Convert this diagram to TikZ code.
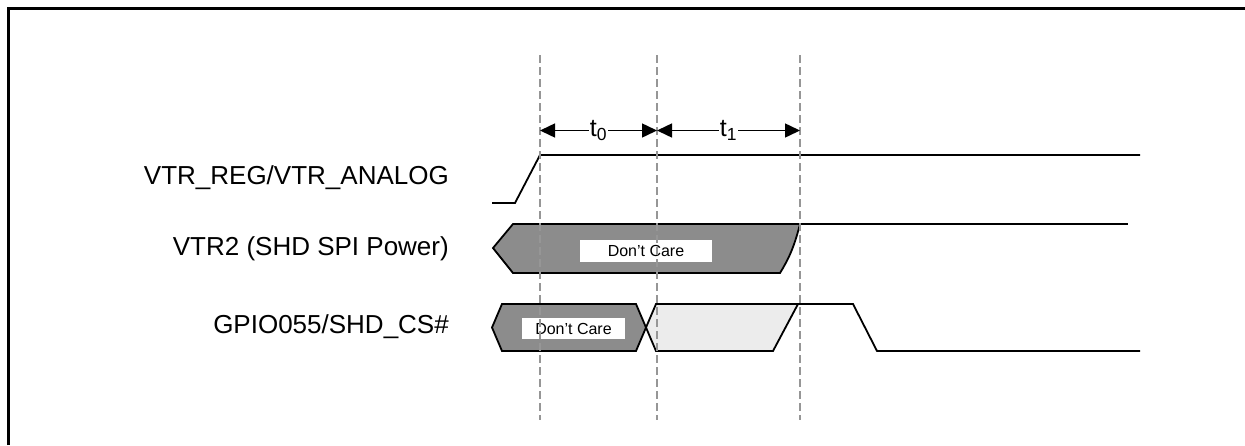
\documentclass[tikz,border=0pt]{standalone}
\usepackage{fontspec}
\setmainfont{Liberation Sans}
\usetikzlibrary{arrows.meta}
\definecolor{hatchdark}{RGB}{140,140,140}
\definecolor{hatchlight}{RGB}{236,236,236}
\definecolor{guidegray}{RGB}{150,150,150}
\begin{document}
\begin{tikzpicture}[x=1pt,y=-1pt,
  frame/.style={line width=3pt},
  guide/.style={draw=guidegray, line width=2pt, dash pattern=on 8pt off 4pt},
  sig/.style={line width=1.8pt, line join=miter},
  meas/.style={line width=1.5pt, {Triangle[length=15pt,width=14pt]}-{Triangle[length=15pt,width=14pt]}},
  lbl/.style={font=\fontsize{26}{30}\selectfont, anchor=east, inner sep=0pt},
  tlbl/.style={font=\fontsize{25}{28}\selectfont, fill=white, inner sep=1pt},
  dcbox/.style={fill=white, font=\fontsize{16}{18}\selectfont, inner sep=0pt, minimum height=22pt}
]
\useasboundingbox (0,0) rectangle (1245,445);
\draw[frame] (8,445) -- (8,8) -- (1245,8);

% signal labels
\node[lbl] (lreg) at (449,178) {VTR\_REG/VTR\_ANALOG};
\node[lbl] (lvtr2) at (449,249) {VTR2 (SHD SPI Power)};
\node[lbl] (lgpio) at (449,327) {GPIO055/SHD\_CS\#};

% VTR_REG/VTR_ANALOG
\draw[sig] (492,203) -- (515,203) -- (540,155) -- (1140,155);

% VTR2
\draw[sig, fill=hatchdark] (493,248) -- (513,224) -- (800,224)
  .. controls (794,248) and (788,260) .. (780,273) -- (513,273) -- cycle;
\draw[sig] (800,224) -- (1128,224);
\node[dcbox, minimum width=132pt] (dc1) at (646,251) {Don’t Care};

% GPIO055/SHD_CS#
\draw[sig, fill=hatchdark] (492,327.5) -- (502,304) -- (636,304) -- (646,327.5)
  -- (636,351) -- (502,351) -- cycle;
\node[dcbox, minimum width=103pt, minimum height=21pt] (dc2) at (573.5,328.5) {Don’t Care};
\draw[sig, fill=hatchlight] (646,327.5) -- (656,304) -- (798,304) -- (773,351)
  -- (656,351) -- cycle;
\draw[sig] (798,304) -- (853,304) -- (877,351) -- (1140,351);

% guides
\coordinate (g0t) at (540,55);  \coordinate (g0b) at (540,420);
\coordinate (g1t) at (657,55);  \coordinate (g1b) at (657,420);
\coordinate (g2t) at (800,55);  \coordinate (g2b) at (800,420);
\draw[guide] (g0t) -- (g0b);
\draw[guide] (g1t) -- (g1b);
\draw[guide] (g2t) -- (g2b);

% measurement arrows
\coordinate (a0) at (540,130.5);
\coordinate (a1) at (657,130.5);
\coordinate (a2) at (800,130.5);
\draw[meas] (a0) -- node[tlbl] (t0) {t\textsubscript{0}} (a1);
\draw[meas] (a1) -- node[tlbl] (t1) {t\textsubscript{1}} (a2);
\end{tikzpicture}
\end{document}
